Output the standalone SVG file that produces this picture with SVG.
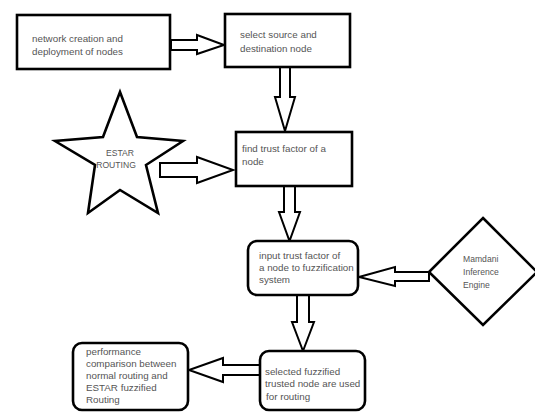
<svg xmlns="http://www.w3.org/2000/svg" width="535" height="412" viewBox="0 0 535 412">
<style>
.box{fill:#fff;stroke:#000;stroke-width:2.6}
.arr{fill:#fff;stroke:#000;stroke-width:2;stroke-linejoin:miter}
text{font-family:"Liberation Sans",Arial,sans-serif;font-size:9.8px;fill:#555}
.s{font-size:8.6px}
</style>
<rect width="535" height="412" fill="#fff"/>
<g id="connectors">
<polygon class="arr" points="171,40 197,40 197,35 224,45 197,54 197,50 171,50"/>
<polygon class="arr" points="280,67 290,67 290,97 295,97 285,131 275,97 280,97"/>
<polygon class="arr" points="160,163 197,163 197,157 233,170 197,183 197,177 160,177"/>
<polygon class="arr" points="284,186 295,186 295,212 300,212 289.5,241 279,212 284,212"/>
<polygon class="arr" points="429,272 395,272 395,267 359,277 395,286 395,281 429,281"/>
<polygon class="arr" points="297,295 309,295 309,322 314,322 303,351 292,322 297,322"/>
<polygon class="arr" points="260,365 223,365 223,358 189,370 223,382 223,375 260,375"/>
</g>
<g id="n1"><rect class="box" x="17" y="15" width="153" height="54"/><text x="32" y="42">network creation and</text><text x="32" y="55">deployment of nodes</text></g>
<g id="n2"><rect class="box" x="225" y="14" width="125" height="53"/><text x="240" y="38">select source and</text><text x="240" y="52">destination node</text></g>
<g id="n3"><rect class="box" x="236" y="132" width="116" height="54"/><text x="242" y="152">find trust factor of a</text><text x="242" y="165">node</text></g>
<g id="star"><polygon class="box" points="120,92 137,137 183,141 146,165 158,213 120,190 88,213 95,165 55,141 103,137"/><text class="s" x="120" y="156" text-anchor="middle">ESTAR</text><text class="s" x="116" y="168" text-anchor="middle">ROUTING</text></g>
<g id="n4"><rect class="box" x="248" y="241" width="110" height="54" rx="9"/><text x="259" y="259">input trust factor of</text><text x="259" y="271">a node to fuzzification</text><text x="259" y="283">system</text></g>
<g id="diamond"><polygon class="box" points="483,218 537,272 483,325 429,272"/><text class="s" x="463" y="262">Mamdani</text><text class="s" x="463" y="275">Inference</text><text class="s" x="463" y="288">Engine</text></g>
<g id="n5"><rect class="box" x="260" y="351" width="105" height="59" rx="9"/><text x="265" y="375">selected fuzzified</text><text x="265" y="387">trusted node are used</text><text x="266" y="400">for routing</text></g>
<g id="n6"><rect class="box" x="73" y="343" width="115" height="67" rx="9"/><text x="86" y="355">performance</text><text x="86" y="367">comparison between</text><text x="86" y="379">normal routing and</text><text x="86" y="391">ESTAR fuzzified</text><text x="86" y="403">Routing</text></g>
</svg>
